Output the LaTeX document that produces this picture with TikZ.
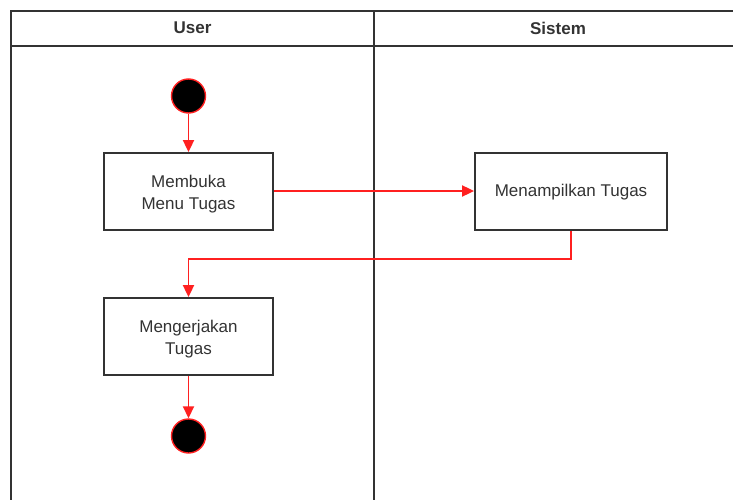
\documentclass[tikz,border=0pt]{standalone}
\usepackage{fontspec}
\setmainfont{Liberation Sans}
\usetikzlibrary{arrows.meta}
\definecolor{frame}{HTML}{333333}
\definecolor{flow}{HTML}{FF2020}
\begin{document}
\begin{tikzpicture}[x=1pt,y=-1pt,
  lane/.style={draw=frame,line width=2.2pt},
  act/.style={draw=frame,line width=1.8pt,fill=white,minimum width=169pt,minimum height=77pt,inner sep=0pt},
  acttext/.style={align=center,text=frame,font=\fontsize{17}{22}\selectfont,inner sep=0pt},
  dot/.style={circle,fill=black,draw=flow,line width=1.4pt,minimum size=34pt,inner sep=0pt},
  flowarrow/.style={draw=flow,line width=1.8pt,-{Triangle[length=12pt,width=11pt]}},
  head/.style={font=\bfseries\fontsize{17}{20}\selectfont,text=frame}]
\useasboundingbox (0,0) rectangle (733,500);
\fill[white] (0,0) rectangle (733,500);
% swimlanes
\draw[lane] (11,500) -- (11,11) -- (740,11);
\draw[lane] (11,46) -- (740,46);
\draw[lane] (374,11) -- (374,500);
\node[head] (hu) at (192.5,28) {User};
\node[head] (hs) at (558,28) {Sistem};
% nodes
\node[dot] (start) at (188.5,96) {};
\node[act] (m1) at (188.5,191.5) {};
\node[acttext] (m1t) at ([yshift=-3pt]m1.center) {Membuka\\Menu Tugas};
\node[act,minimum width=192pt] (s1) at (571,191.5) {};
\node[acttext] (s1t) at ([yshift=-1pt]s1.center) {Menampilkan Tugas};
\node[act] (m2) at (188.5,336.5) {};
\node[acttext] (m2t) at ([yshift=-3pt]m2.center) {Mengerjakan\\Tugas};
\node[dot] (end) at (188.5,436) {};
% connectors
\draw[flowarrow] (start) -- (m1);
\draw[flowarrow] ([yshift=0.5pt]m1.east) -- ([yshift=0.5pt]s1.west);
\draw[flowarrow] (s1.south) -- ++(0,28) -| (m2.north);
\draw[flowarrow] (m2) -- (end);
\end{tikzpicture}
\end{document}
